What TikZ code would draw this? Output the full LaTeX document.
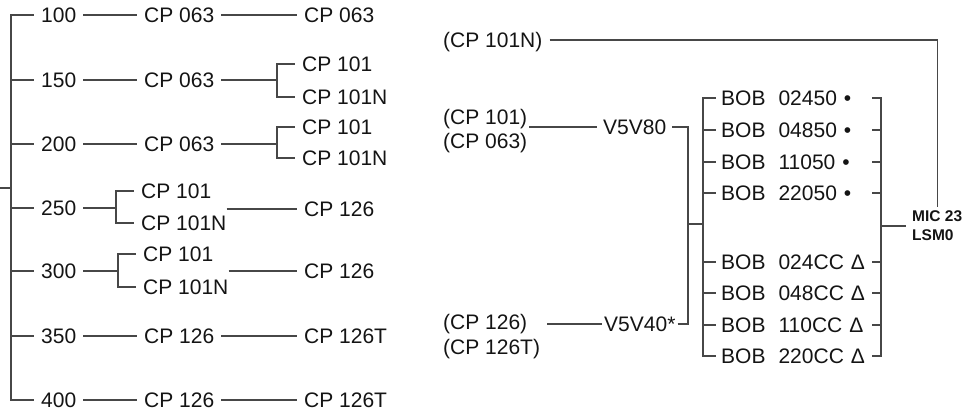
\documentclass[tikz,border=0pt]{standalone}
\usepackage{fontspec}
\setmainfont{Liberation Sans}
\usetikzlibrary{calc}
\tikzstyle{item} = [anchor=west, inner xsep=7pt, inner ysep=2pt, text height=15pt, text depth=0pt, font=\fontsize{21}{25}\selectfont, text=black!92]
\tikzstyle{valve} = [item, inner xsep=6pt]
\tikzstyle{bobitem} = [item, inner xsep=5pt, text width=146pt, align=left]
\tikzstyle{micitem} = [anchor=west, inner xsep=6pt, inner ysep=4pt, align=left, font=\fontsize{15.5}{19}\selectfont\bfseries, text=black!92]
\tikzstyle{connector} = [draw=black!72, line width=1.2pt]

\begin{document}
\begin{tikzpicture}[x=1pt, y=-1pt]
        \useasboundingbox (0,0) rectangle (971,411);
        % left tree
        \coordinate (root) at (0,188);
        \coordinate (trunk) at (11,188);
        \node (row100) [item] at (34,15) {100};
        \node (row150) [item] at (34,80) {150};
        \node (row200) [item] at (34,144) {200};
        \node (row250) [item] at (34,208) {250};
        \node (row300) [item] at (34,271) {300};
        \node (row350) [item] at (34,336) {350};
        \node (row400) [item] at (34,400) {400};
        \node (row100-cp) [item] at (137,15) {CP 063};
        \node (row150-cp) [item] at (137,80) {CP 063};
        \node (row200-cp) [item] at (137,144) {CP 063};
        \node (row350-cp) [item] at (137,336) {CP 126};
        \node (row400-cp) [item] at (137,400) {CP 126};
        \node (row100-out) [item] at (297,15) {CP 063};
        \node (row350-out) [item] at (297,336) {CP 126T};
        \node (row400-out) [item] at (297,400) {CP 126T};
        \coordinate (row150-split) at (277,80);
        \node (row150-a) [item] at (295,64) {CP 101};
        \node (row150-b) [item] at (295,97) {CP 101N};
        \coordinate (row200-split) at (277,144);
        \node (row200-a) [item] at (295,127) {CP 101};
        \node (row200-b) [item] at (295,158) {CP 101N};
        \coordinate (row250-split) at (116,208);
        \node (row250-a) [item] at (134,191) {CP 101};
        \node (row250-b) [item] at (134,223) {CP 101N};
        \node (row250-out) [item] at (297,209) {CP 126};
        \coordinate (row300-split) at (118,271);
        \node (row300-a) [item] at (136,254) {CP 101};
        \node (row300-b) [item] at (136,287) {CP 101N};
        \node (row300-out) [item] at (297,271) {CP 126};
        \draw [connector] (root) -- (trunk);
        \draw [connector] (trunk) |- (row100.west);
        \draw [connector] (trunk) |- (row150.west);
        \draw [connector] (trunk) |- (row200.west);
        \draw [connector] (trunk) |- (row250.west);
        \draw [connector] (trunk) |- (row300.west);
        \draw [connector] (trunk) |- (row350.west);
        \draw [connector] (trunk) |- (row400.west);
        \draw [connector] (row100) -- (row100-cp);
        \draw [connector] (row100-cp) -- (row100-out);
        \draw [connector] (row150) -- (row150-cp);
        \draw [connector] (row150-cp) -- (row150-split);
        \draw [connector] (row150-split) |- (row150-a.west);
        \draw [connector] (row150-split) |- (row150-b.west);
        \draw [connector] (row200) -- (row200-cp);
        \draw [connector] (row200-cp) -- (row200-split);
        \draw [connector] (row200-split) |- (row200-a.west);
        \draw [connector] (row200-split) |- (row200-b.west);
        \draw [connector] (row250) -- (row250-split);
        \draw [connector] (row250-split) |- (row250-a.west);
        \draw [connector] (row250-split) |- (row250-b.west);
        \draw [connector] ([xshift=-7pt]row250-b.east |- row250-out.west) -- (row250-out.west);
        \draw [connector] (row300) -- (row300-split);
        \draw [connector] (row300-split) |- (row300-a.west);
        \draw [connector] (row300-split) |- (row300-b.west);
        \draw [connector] ([xshift=-7pt]row300-b.east |- row300-out.west) -- (row300-out.west);
        \draw [connector] (row350) -- (row350-cp);
        \draw [connector] (row350-cp) -- (row350-out);
        \draw [connector] (row400) -- (row400-cp);
        \draw [connector] (row400-cp) -- (row400-out);
        % right side
        \node (in-101n) [item] at (436,40) {(CP 101N)};
        \node (in-101) [item] at (436,117) {(CP 101)};
        \node (in-063) [item] at (436,141) {(CP 063)};
        \node (in-126) [item] at (436,322) {(CP 126)};
        \node (in-126t) [item] at (436,347) {(CP 126T)};
        \node (v80) [valve] at (597,127) {V5V80};
        \node (v40) [valve, inner xsep=2pt] at (602,324) {V5V40*};
        \coordinate (vjoin) at (688,224);
        \coordinate (bobsplit) at (703,224);
        \coordinate (micsplit) at (881,226);
        \node (bob-02450) [bobitem] at (716,98) {BOB\hspace{13pt}02450 \textbullet};
        \node (bob-04850) [bobitem] at (716,130) {BOB\hspace{13pt}04850 \textbullet};
        \node (bob-11050) [bobitem] at (716,162) {BOB\hspace{13pt}11050 \textbullet};
        \node (bob-22050) [bobitem] at (716,193) {BOB\hspace{13pt}22050 \textbullet};
        \node (bob-024cc) [bobitem] at (716,262) {BOB\hspace{13pt}024CC\hspace{7pt}Δ};
        \node (bob-048cc) [bobitem] at (716,293) {BOB\hspace{13pt}048CC\hspace{7pt}Δ};
        \node (bob-110cc) [bobitem] at (716,325) {BOB\hspace{13pt}110CC\hspace{7pt}Δ};
        \node (bob-220cc) [bobitem] at (716,356) {BOB\hspace{13pt}220CC\hspace{7pt}Δ};
        \node (mic) [micitem] at (906,226) {MIC 23\\LSM0};
        \draw [connector] (in-101n) -| (mic.north);
        \draw [connector] ([xshift=-5pt]in-101.east |- v80.west) -- (v80.west);
        \draw [connector] (in-126t.east |- v40.west) -- (v40.west);
        \draw [connector] (v80) -| (vjoin);
        \draw [connector] (v40) -| (vjoin);
        \draw [connector] (vjoin) -- (bobsplit);
        \draw [connector] (bobsplit) |- (bob-02450.west);
        \draw [connector] (bobsplit) |- (bob-04850.west);
        \draw [connector] (bobsplit) |- (bob-11050.west);
        \draw [connector] (bobsplit) |- (bob-22050.west);
        \draw [connector] (bobsplit) |- (bob-024cc.west);
        \draw [connector] (bobsplit) |- (bob-048cc.west);
        \draw [connector] (bobsplit) |- (bob-110cc.west);
        \draw [connector] (bobsplit) |- (bob-220cc.west);
        \draw [connector] (bob-02450.east) -| (micsplit);
        \draw [connector] (bob-04850.east) -| (micsplit);
        \draw [connector] (bob-11050.east) -| (micsplit);
        \draw [connector] (bob-22050.east) -| (micsplit);
        \draw [connector] (bob-024cc.east) -| (micsplit);
        \draw [connector] (bob-048cc.east) -| (micsplit);
        \draw [connector] (bob-110cc.east) -| (micsplit);
        \draw [connector] (bob-220cc.east) -| (micsplit);
        \draw [connector] (micsplit) -- (mic.west);
    \end{tikzpicture}
\end{document}
